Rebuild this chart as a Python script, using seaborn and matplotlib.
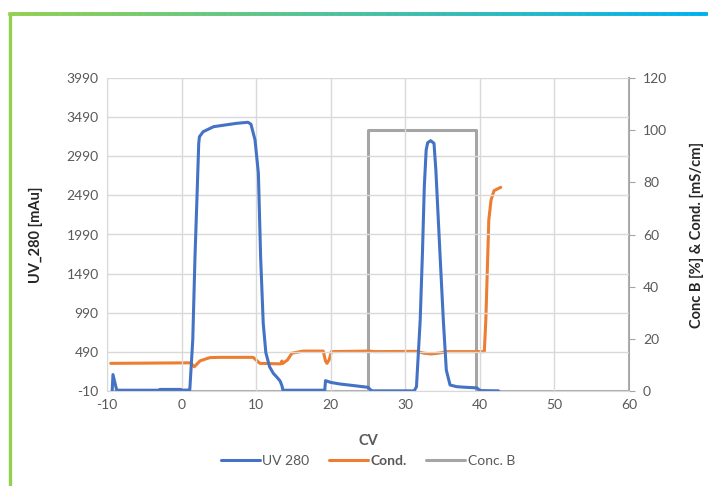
import numpy as np
import pandas as pd
import matplotlib
matplotlib.use("Agg")
import matplotlib.pyplot as plt
import seaborn as sns
from matplotlib.collections import LineCollection
from matplotlib.colors import to_rgb
from matplotlib.lines import Line2D

# ---------------- data ----------------
cv_uv = [-9.3, -9.2, -8.7, -3.0, -2.9, -0.1, 0.1, 1.1, 1.5, 1.8, 2.1, 2.3, 2.4, 2.9, 4.3,
         7.4, 8.9, 9.3, 9.85, 10.3, 10.6, 10.95, 11.3, 11.8, 12.3, 12.75, 13.2, 13.45, 13.6,
         19.2, 19.3, 20.0, 21.2, 23.0, 25.0, 25.5, 31.2, 31.5, 32.0, 32.3, 32.55, 32.8,
         33.0, 33.4, 33.85, 34.1, 34.65, 35.1, 35.5, 36.0, 36.9, 38.0, 39.6, 39.9, 40.2, 42.5]
uv_280 = [0, 200, 0, 0, 10, 10, 0, 3, 640, 1706, 2560, 3155, 3240, 3304, 3368,
          3411, 3424, 3400, 3198, 2772, 1706, 855, 480, 300, 216, 170, 120, 60, 0,
          0, 122, 100, 80, 60, 37, -8, -8, 45, 897, 1750, 2600, 3070,
          3163, 3189, 3155, 2814, 1750, 897, 258, 67, 45, 38, 30, 5, -5, -8]

cv_cond = [-9.5, 1.2, 1.7, 2.5, 3.8, 5.0, 9.6, 10.5, 13.3, 13.45, 13.6, 14.2, 14.8, 16.3,
           19.0, 19.3, 19.5, 19.8, 20.1, 25.0, 26.0, 31.5, 32.5, 33.5, 34.7, 35.5, 40.6,
           40.8, 41.0, 41.2, 41.5, 41.9, 42.8]
cond = [10.6, 10.8, 9.3, 11.6, 12.8, 12.9, 12.9, 10.6, 10.4, 11.5, 10.6, 11.9, 14.5, 15.3,
        15.3, 11.5, 10.6, 12.0, 15.1, 15.3, 15.1, 15.2, 14.5, 14.2, 14.6, 15.1, 15.1,
        27.2, 46.4, 65.6, 73.2, 76.8, 78.1]

cv_concb = [-9.5, 25.0, 25.0, 39.5, 39.5, 60.0]
conc_b = [0, 0, 100, 100, 0, 0]

x_ticks = [-10, 0, 10, 20, 30, 40, 50, 60]
y_left_ticks = [-10, 490, 990, 1490, 1990, 2490, 2990, 3490, 3990]
y_right_ticks = [0, 20, 40, 60, 80, 100, 120]

# ---------------- style ----------------
sns.set_style("white")
plt.rcParams["font.family"] = ["Lato", "DejaVu Sans"]
plt.rcParams["axes.unicode_minus"] = False

BLUE = "#4472C4"
ORANGE = "#ED7D31"
GRAY = "#A5A5A5"
TICK = "#595959"
GRID = "#D9D9D9"

fig = plt.figure(figsize=(7.08, 4.86), dpi=100)
ax = fig.add_axes([107 / 708, 1 - 391 / 486, (629 - 107) / 708, (391 - 78) / 486])
ax2 = ax.twinx()

df_uv = pd.DataFrame({"CV": cv_uv, "UV": uv_280})
df_c = pd.DataFrame({"CV": cv_cond, "Cond": cond})
df_b = pd.DataFrame({"CV": cv_concb, "B": conc_b})

sns.lineplot(data=df_b, x="CV", y="B", ax=ax2, color=GRAY, linewidth=2.2,
             sort=False, estimator=None, legend=False)
sns.lineplot(data=df_uv, x="CV", y="UV", ax=ax, color=BLUE, linewidth=2.2,
             sort=False, estimator=None, legend=False)
sns.lineplot(data=df_c, x="CV", y="Cond", ax=ax2, color=ORANGE, linewidth=2.2,
             sort=False, estimator=None, legend=False)

ax.set_zorder(ax2.get_zorder() + 1)
ax.patch.set_visible(False)

ax.set_xlim(-10, 60)
ax.set_ylim(-10, 3990)
ax2.set_ylim(0, 120)
ax.set_xticks(x_ticks)
ax.set_yticks(y_left_ticks)
ax2.set_yticks(y_right_ticks)

ax.grid(True, color=GRID, linewidth=1)
ax.set_axisbelow(True)
ax2.grid(False)

for a in (ax, ax2):
    a.spines["top"].set_visible(False)
    a.spines["left"].set_color(GRID)
    a.spines["bottom"].set_color(GRID)
    a.spines["right"].set_color(GRAY)
    a.spines["right"].set_linewidth(1.5)
ax.spines["right"].set_visible(False)
ax2.spines["left"].set_visible(False)
ax2.spines["bottom"].set_visible(False)

ax.tick_params(axis="both", length=0, labelsize=10, labelcolor=TICK, pad=6)
ax2.tick_params(axis="y", length=4, color=GRAY, labelsize=10, labelcolor=TICK, pad=6)

ax.set_xlabel("CV", fontsize=10.5, fontweight="bold", color=TICK)
ax.set_ylabel("UV_280 [mAu]", fontsize=10.5, fontweight="bold", color="#262626")
ax2.set_ylabel("Conc B [%] & Cond. [mS/cm]", fontsize=10.5, fontweight="bold", color="#262626")
ax.xaxis.set_label_coords((368 - 107) / 522, (391 - 434) / 313)
ax.yaxis.set_label_coords((43 - 107) / 522, 0.5)
ax2.yaxis.set_label_coords((690 - 107) / 522, 0.5)

# legend
handles = [Line2D([], [], color=BLUE, lw=2.2),
           Line2D([], [], color=ORANGE, lw=2.2),
           Line2D([], [], color=GRAY, lw=2.2)]
leg = fig.legend(handles, ["UV 280", "Cond.", "Conc. B"], loc="center",
                 bbox_to_anchor=(368 / 708, 1 - 461 / 486), ncol=3, frameon=False,
                 fontsize=10, handlelength=2.8, handletextpad=0.2, columnspacing=1.4)
for t in leg.get_texts():
    t.set_color(TICK)
leg.get_texts()[1].set_fontweight("bold")

# gradient border (left + top)
c0 = np.array(to_rgb("#92D050"))
c1 = np.array(to_rgb("#00B0F0"))
ytop = 1 - 14.5 / 486
xl = 9.5 / 708
fig.add_artist(Line2D([xl, xl], [0, ytop], transform=fig.transFigure, color="#92D050",
                      lw=2.4, solid_capstyle="butt"))
n = 200
xs = np.linspace(xl, 1.0, n + 1)
segs = [[(xs[i], ytop), (xs[i + 1], ytop)] for i in range(n)]
cols = [tuple(c0 + (c1 - c0) * (i / (n - 1))) for i in range(n)]
lc = LineCollection(segs, colors=cols, linewidths=2.6, transform=fig.transFigure,
                    capstyle="projecting")
fig.add_artist(lc)

fig.savefig("out.png", dpi=100)
